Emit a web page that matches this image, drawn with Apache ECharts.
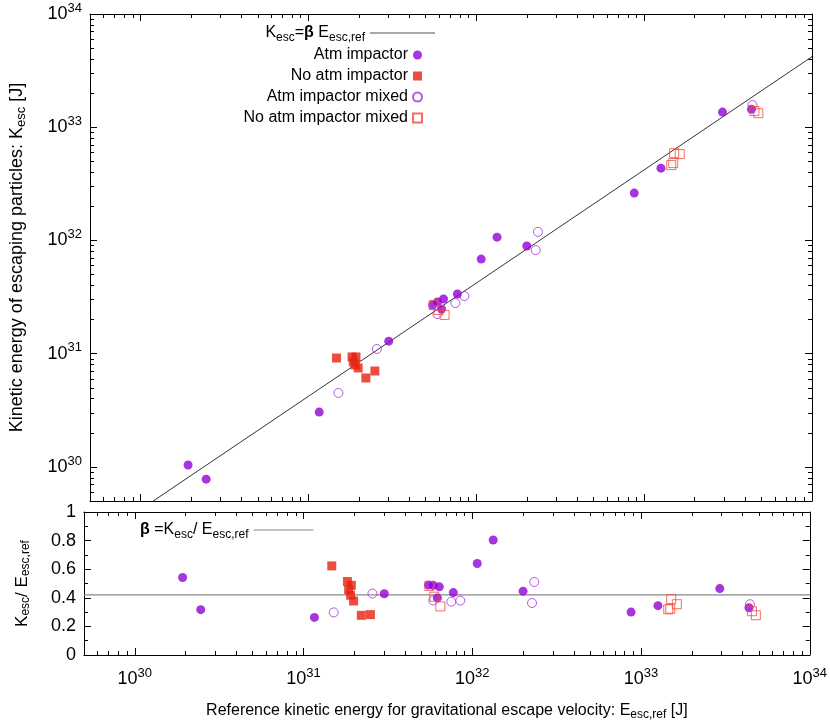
<!DOCTYPE html>
<html><head><meta charset="utf-8">
<script src="https://cdn.jsdelivr.net/npm/echarts@6/dist/echarts.min.js"></script>
<style>html,body{margin:0;padding:0;background:#fff}#c{width:830px;height:722px}</style>
</head><body><div id="c"></div>
<script>
const beta = 0.42;
const atmE = [1.92e30,2.46e30,1.16e31,3.01e31,5.50e31,5.87e31,6.38e31,6.21e31,7.72e31,1.07e32,1.33e32,2.00e32,8.73e32,1.26e33,2.93e33,4.36e33];
const atmK = [1.04e30,7.8e29,3.05e30,1.29e31,2.69e31,2.86e31,3.04e31,2.48e31,3.37e31,6.85e31,1.07e32,8.93e31,2.62e32,4.35e32,1.36e33,1.44e33];
const noAtmE = [1.47e31,1.82e31,1.92e31,1.85e31,1.90e31,1.98e31,2.49e31,2.20e31];
const noAtmK = [9.16e30,9.35e30,9.35e30,8.45e30,7.95e30,7.48e30,7.03e30,6.10e30];
const atmMixE = [1.51e31,2.56e31,5.87e31,7.51e31,8.49e31,2.26e32,2.33e32,4.42e33];
const atmMixK = [4.50e30,1.10e31,2.24e31,2.80e31,3.23e31,8.22e31,1.19e32,1.57e33];
const noAtmMixE = [5.57e31,5.96e31,6.47e31,1.51e33,1.63e33,1.49e33,1.45e33,4.54e33,4.79e33];
const noAtmMixK = [2.69e31,2.43e31,2.20e31,5.90e32,5.79e32,4.82e32,4.63e32,1.39e33,1.33e33];
const xRange = [5e29, 1e34];
const yRange = [5e29, 1e34];

const FONT = 'Liberation Sans';
const pair = (E,K)=>E.map((e,i)=>[e,K[i]]);
const ratio = (E,K)=>E.map((e,i)=>[e,K[i]/e]);
const mkRich = (fs)=>({
  sup:{fontSize:Math.round(fs*0.7),fontFamily:FONT,padding:[0,0,fs*0.65,0],color:'#000'},
  sub:{fontSize:Math.round(fs*0.75),fontFamily:FONT,padding:[fs*0.55,0,0,0],color:'#000'},
  b:{fontSize:fs,fontFamily:FONT,fontWeight:'bold',color:'#000'},
  n:{fontSize:fs,fontFamily:FONT,color:'#000'}
});
const tickRich = mkRich(18), legRich = mkRich(16);
const powFmt = v => { const l=Math.log10(v); return Math.abs(l-Math.round(l))<1e-6 ? '{n|10}{sup|'+Math.round(l)+'}' : ''; };
const PURPLE='#9400d3', RED='#e8210f', LRED='#f04a3a', OPURP='#a030e0';
const logAxisBase = (gi, show) => ({
  type:'log', gridIndex:gi, min:xRange[0], max:xRange[1], logBase:10,
  axisLine:{show:true,onZero:false,lineStyle:{color:'#000',width:1}},
  axisTick:{show:true,inside:true,length:7,lineStyle:{color:'#000'}},
  minorTick:{show:true,splitNumber:9,length:4,lineStyle:{color:'#000'}},
  splitLine:{show:false},
  axisLabel:{show:show,formatter:powFmt,rich:tickRich,margin:12,fontSize:18,fontFamily:FONT,color:'#000'}
});
const sc = (name,data,xi,yi,sym,size,color,open) => ({
  name, type:'scatter', xAxisIndex:xi, yAxisIndex:yi, data, symbol:sym, symbolSize:size,
  itemStyle: open ? {color:'rgba(255,255,255,0)',borderColor:color,borderWidth:1} : {color:color},
  z:3
});
const chart = echarts.init(document.getElementById('c'));
chart.setOption({
  animation:false,
  textStyle:{fontFamily:FONT},
  grid:[
    {left:84,right:18,top:14,height:487},
    {left:84,right:18,top:512,height:145}
  ],
  xAxis:[
    Object.assign(logAxisBase(0,false),{position:'bottom'}),
    Object.assign(logAxisBase(1,true),{position:'bottom',name:'Reference kinetic energy for gravitational escape velocity: {n2|E}{sub|esc,ref} {n2|[J]}',
      nameLocation:'middle',nameGap:46,nameTextStyle:{fontSize:16,fontFamily:FONT,color:'#000',rich:{n2:{fontSize:16,fontFamily:FONT},sub:{fontSize:12,fontFamily:FONT,padding:[8,0,0,0]}}}}),
    Object.assign(logAxisBase(0,false),{position:'top'}),
    Object.assign(logAxisBase(1,false),{position:'top'})
  ],
  yAxis:[
    {type:'log',gridIndex:0,min:yRange[0],max:yRange[1],
     axisLine:{show:true,onZero:false,lineStyle:{color:'#000'}},
     axisTick:{inside:true,length:7,lineStyle:{color:'#000'}},
     minorTick:{show:true,splitNumber:9,length:4,lineStyle:{color:'#000'}},
     splitLine:{show:false},
     axisLabel:{formatter:powFmt,rich:tickRich,margin:8,color:'#000'},
     name:'Kinetic energy of escaping particles: {n2|K}{sub|esc} {n2|[J]}',nameLocation:'middle',nameGap:62,
     nameTextStyle:{fontSize:18,fontFamily:FONT,color:'#000',rich:{n2:{fontSize:18,fontFamily:FONT},sub:{fontSize:13,fontFamily:FONT,padding:[9,0,0,0]}}}},
    {type:'value',gridIndex:1,min:0,max:1,interval:0.2,
     axisLine:{show:true,onZero:false,lineStyle:{color:'#000'}},
     axisTick:{inside:true,length:7,lineStyle:{color:'#000'}},
     minorTick:{show:true,splitNumber:2,length:4,lineStyle:{color:'#000'}},
     splitLine:{show:false},
     axisLabel:{fontSize:18,fontFamily:FONT,color:'#000',margin:8},
     name:'{n2|K}{sub|esc}{n2|/ E}{sub|esc,ref}',nameLocation:'middle',nameGap:52,
     nameTextStyle:{fontSize:17,fontFamily:FONT,color:'#000',rich:{n2:{fontSize:17,fontFamily:FONT},sub:{fontSize:12,fontFamily:FONT,padding:[8,0,0,0]}}}},
    {type:'log',gridIndex:0,min:yRange[0],max:yRange[1],position:'right',
     axisLine:{show:true,onZero:false,lineStyle:{color:'#000'}},
     axisTick:{inside:true,length:7,lineStyle:{color:'#000'}},
     minorTick:{show:true,splitNumber:9,length:4,lineStyle:{color:'#000'}},
     splitLine:{show:false},axisLabel:{show:false}},
    {type:'value',gridIndex:1,min:0,max:1,interval:0.2,position:'right',
     axisLine:{show:true,onZero:false,lineStyle:{color:'#000'}},
     axisTick:{inside:true,length:7,lineStyle:{color:'#000'}},
     minorTick:{show:true,splitNumber:2,length:4,lineStyle:{color:'#000'}},
     splitLine:{show:false},axisLabel:{show:false}}
  ],
  legend:[
    {right:390,top:20,orient:'vertical',align:'right',itemWidth:65,itemHeight:10,
     textStyle:{fontSize:16,fontFamily:FONT,color:'#000',rich:legRich},
     formatter:()=>'{n|K}{sub|esc}{n|=}{b|β}{n| E}{sub|esc,ref}',
     data:[{name:'Kb',icon:'path://M0,0L60,0L60,1L0,1Z'}]},
    {right:402,top:42,orient:'vertical',align:'right',itemGap:5,itemWidth:9,itemHeight:9,
     textStyle:{fontSize:16,fontFamily:FONT,color:'#000'},
     data:['Atm impactor','No atm impactor','Atm impactor mixed','No atm impactor mixed']},
    {left:135,top:517,align:'right',itemWidth:60,itemHeight:10,
     textStyle:{fontSize:16,fontFamily:FONT,color:'#000',rich:legRich},
     formatter:()=>'{b|β}{n| =K}{sub|esc}{n|/ E}{sub|esc,ref}',
     data:[{name:'Beta',icon:'path://M0,0L60,0L60,1L0,1Z'}]}
  ],
  series:[
    {name:'Kb',type:'line',xAxisIndex:0,yAxisIndex:0,data:[[xRange[0],beta*xRange[0]],[xRange[1],beta*xRange[1]]],
     symbol:'none',clip:true,lineStyle:{color:'#333',width:1},itemStyle:{color:'#555'},z:2},
    sc('Atm impactor',pair(atmE,atmK),0,0,'circle',9,PURPLE,false),
    sc('No atm impactor',pair(noAtmE,noAtmK),0,0,'rect',9,RED,false),
    sc('Atm impactor mixed',pair(atmMixE,atmMixK),0,0,'circle',9,OPURP,true),
    sc('No atm impactor mixed',pair(noAtmMixE,noAtmMixK),0,0,'rect',9,LRED,true),
    {name:'Beta',type:'line',xAxisIndex:1,yAxisIndex:1,data:[[xRange[0],beta],[xRange[1],beta]],
     symbol:'none',lineStyle:{color:'#888',width:1.2},itemStyle:{color:'#888'},z:2},
    sc('Atm impactor',ratio(atmE,atmK),1,1,'circle',9,PURPLE,false),
    sc('No atm impactor',ratio(noAtmE,noAtmK),1,1,'rect',9,RED,false),
    sc('Atm impactor mixed',ratio(atmMixE,atmMixK),1,1,'circle',9,OPURP,true),
    sc('No atm impactor mixed',ratio(noAtmMixE,noAtmMixK),1,1,'rect',9,LRED,true)
  ]
});
</script></body></html>
